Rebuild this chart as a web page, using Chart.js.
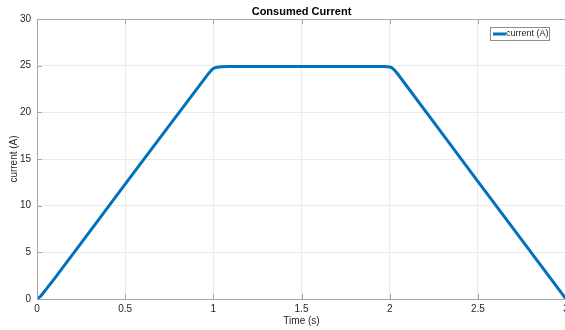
<!DOCTYPE html>
<html>
<head>
<meta charset="utf-8">
<script src="https://cdn.jsdelivr.net/npm/chart.js@4"></script>
<style>
  html, body { margin: 0; padding: 0; background: #fff; overflow: hidden; }
  #wrap { width: 602px; height: 330px; }
</style>
</head>
<body>
<div id="wrap"><canvas id="currentChart"></canvas></div>
<script>
const time = [0, 0.02, 0.05, 0.1, 0.5, 0.97, 1.0, 1.03, 1.08, 1.5, 1.97, 2.0, 2.02, 2.05, 2.5, 3.0];
const current = [0, 0.3, 1.0, 2.2, 12.3, 24.1, 24.7, 24.85, 24.9, 24.9, 24.9, 24.85, 24.65, 24.0, 12.6, 0];
const xTicks = [0, 0.5, 1, 1.5, 2, 2.5, 3];
const yTicks = [0, 5, 10, 15, 20, 25, 30];
const chartTitle = 'Consumed Current';

const axisColor = '#a6a6a6';
const textColor = '#262626';
const fontFamily = '"Liberation Sans", Arial, sans-serif';

// titulo, bordes, marcas hacia dentro y leyenda al estilo MATLAB
const matlabBox = {
  id: 'matlabBox',
  afterDraw(chart) {
    const { ctx, chartArea, scales } = chart;
    ctx.save();

    ctx.fillStyle = '#000';
    ctx.font = 'bold 11px ' + fontFamily;
    ctx.textAlign = 'center';
    ctx.textBaseline = 'middle';
    ctx.fillText(chartTitle, (chartArea.left + chartArea.right) / 2, 11.5);

    ctx.strokeStyle = axisColor;
    ctx.lineWidth = 1;
    ctx.beginPath();
    ctx.moveTo(chartArea.left, chartArea.top + 0.5);
    ctx.lineTo(chartArea.right, chartArea.top + 0.5);
    xTicks.forEach(v => {
      const x = Math.round(scales.x.getPixelForValue(v)) + 0.5;
      ctx.moveTo(x, chartArea.bottom);
      ctx.lineTo(x, chartArea.bottom - 5);
      ctx.moveTo(x, chartArea.top);
      ctx.lineTo(x, chartArea.top + 5);
    });
    yTicks.forEach(v => {
      const y = Math.round(scales.y.getPixelForValue(v)) + 0.5;
      ctx.moveTo(chartArea.left, y);
      ctx.lineTo(chartArea.left + 5, y);
    });
    ctx.stroke();

    // leyenda
    const bx = chartArea.right - 76, by = chartArea.top + 8, bw = 59, bh = 13;
    ctx.fillStyle = '#fff';
    ctx.fillRect(bx, by, bw, bh);
    ctx.strokeStyle = '#8c8c8c';
    ctx.strokeRect(bx + 0.5, by + 0.5, bw, bh);
    ctx.strokeStyle = chart.data.datasets[0].borderColor;
    ctx.lineWidth = 3;
    ctx.beginPath();
    ctx.moveTo(bx + 3, by + 7);
    ctx.lineTo(bx + 16, by + 7);
    ctx.stroke();
    ctx.fillStyle = textColor;
    ctx.font = '9px ' + fontFamily;
    ctx.textAlign = 'left';
    ctx.fillText(chart.data.datasets[0].label, bx + 16, by + 7);
    ctx.restore();
  }
};

const ctx = document.getElementById('currentChart').getContext('2d');
new Chart(ctx, {
  type: 'line',
  data: {
    datasets: [{
      label: 'current (A)',
      data: time.map((t, i) => ({ x: t, y: current[i] })),
      borderColor: '#0072bd',
      borderWidth: 3,
      pointRadius: 0,
      tension: 0.2,
      fill: false
    }]
  },
  options: {
    responsive: true,
    maintainAspectRatio: false,
    animation: false,
    layout: { padding: { left: 0, right: 36, top: 19, bottom: 0 } },
    plugins: {
      legend: { display: false },
      tooltip: { enabled: false },
      title: { display: false }
    },
    scales: {
      x: {
        type: 'linear',
        min: 0,
        max: 3,
        afterBuildTicks: s => { s.ticks = xTicks.map(v => ({ value: v })); },
        afterFit: s => { s.height = 31; },
        border: { color: axisColor },
        grid: { color: '#ebebeb', drawTicks: false },
        ticks: {
          padding: 4,
          color: textColor,
          font: { family: fontFamily, size: 10 },
          maxRotation: 0,
          callback: v => String(v)
        },
        title: {
          display: true,
          text: 'Time (s)',
          color: textColor,
          font: { family: fontFamily, size: 10 },
          padding: { top: 0, bottom: 3 }
        }
      },
      y: {
        min: 0,
        max: 30,
        afterBuildTicks: s => { s.ticks = yTicks.map(v => ({ value: v })); },
        afterFit: s => { s.width = 37; },
        border: { color: axisColor },
        grid: { color: '#ebebeb', drawTicks: false },
        ticks: {
          padding: 6,
          color: textColor,
          font: { family: fontFamily, size: 10 },
          callback: v => String(v)
        },
        title: {
          display: true,
          text: 'current (A)',
          color: textColor,
          font: { family: fontFamily, size: 10 },
          padding: { top: 8, bottom: 0 }
        }
      }
    }
  },
  plugins: [matlabBox]
});
</script>
</body>
</html>
